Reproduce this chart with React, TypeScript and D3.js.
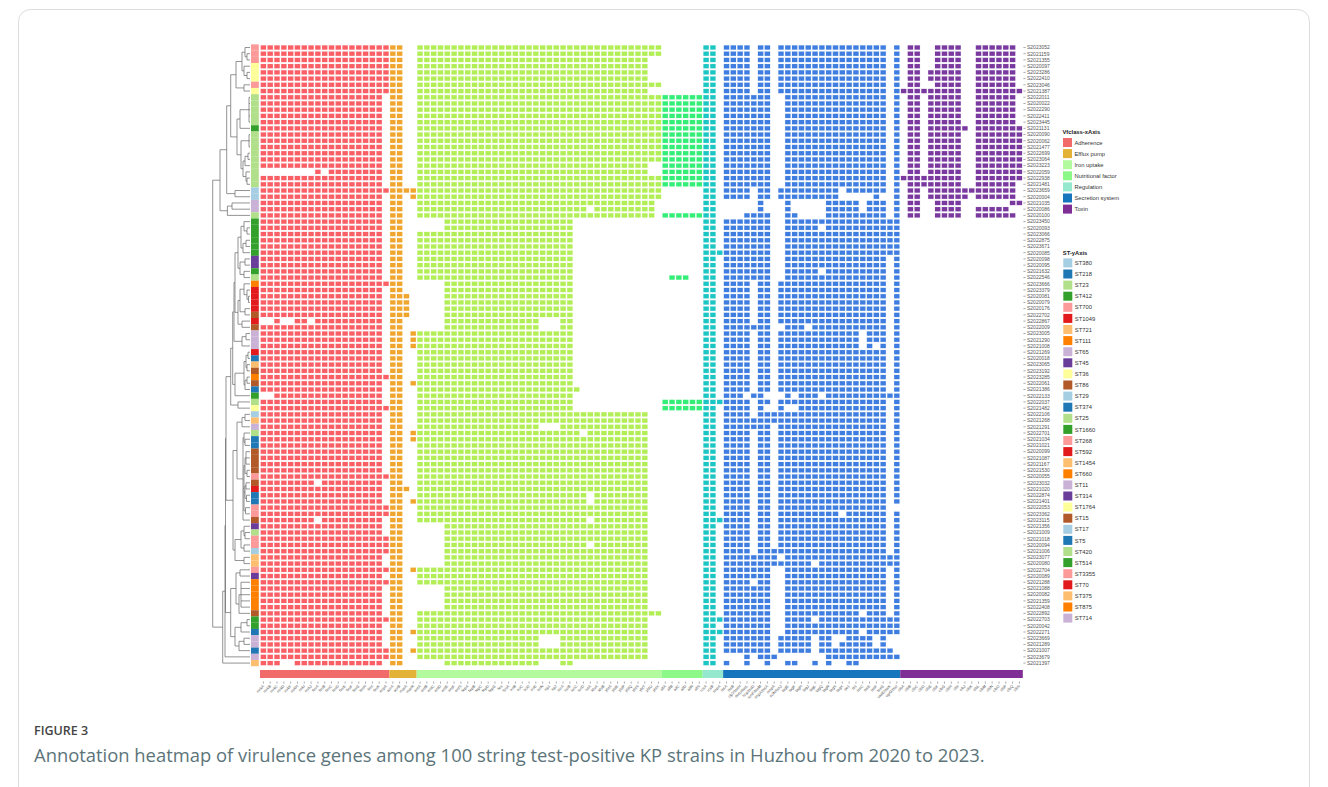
import React from "react";
import * as d3 from "d3";

// ---------- DATA ----------
const strains = [
  "S2023052","S2021159","S2021355","S2020097","S2023286","S2022410","S2023046","S2021387","S2022011","S2020022",
  "S2022290","S2022411","S2023445","S2021131","S2020090","S2020062","S2021477","S2022699","S2023064","S2023223",
  "S2022059","S2022938","S2021481","S2023659","S2020004","S2021035","S2020086","S2020100","S2023450","S2020093",
  "S2023066","S2022875","S2023671","S2020085","S2020098","S2020095","S2021632","S2022546","S2023666","S2023379",
  "S2020081","S2020079","S2020176","S2022702","S2022867","S2022009","S2023005","S2021290","S2021008","S2021269",
  "S2020018","S2023065","S2023192","S2023285","S2022061","S2021386","S2022133","S2022037","S2021482","S2022106",
  "S2021268","S2021291","S2022701","S2021034","S2021021","S2020099","S2021087","S2021167","S2021530","S2020055",
  "S2023032","S2021020","S2022874","S2021401","S2022053","S2023362","S2023115","S2021356","S2021009","S2021018",
  "S2020094","S2021006","S2023077","S2020080","S2022704","S2020089","S2021288","S2021088","S2020082","S2021359",
  "S2022408","S2022892","S2022703","S2020042","S2022271","S2023669","S2021289","S2021007","S2023679","S2021397",
];

const adherenceGenes = ["mrkA","mrkB","mrkC","mrkD","mrkF","mrkH","mrkI","mrkJ","fimA","fimB","fimC","fimD","fimE","fimF","fimG","fimH","fimI","fimK","ecpA"];
const effluxGenes = ["acrA","acrB","marA","marR"];
const ironGenes = ["entA","entB","entC","entD","entE","entF","entS","fepA","fepB","fepC","fepD","fepG","fes","fyuA","iroB","iroC","iroD","iroE","iroN","irp1","irp2","iucA","iucB","iucC","iucD","iutA","kfuA","kfuB","ybtA","ybtE","ybtP","ybtQ","ybtS","ybtT","ybtU","ybtX"];
const nutritionGenes = ["allA","allB","allC","allD","allR","allS"];
const regulationGenes = ["rcsA","rcsB","rmpA"];
const secretionGenes = ["tssA","tssB","clpV/tssH","dotU/tssL","hcp/tssD","icmF/tssM","impA/tssA","ompA","sciN/tssJ","tagE","tagF","tagH","tagJ","tagL","tagQ","tagR","tagS","tagX","tle1","tli1","tssC","tssE","tssF","tssG","vasE/tssK","vgrG/tssI"];
const toxinGenes = ["clbA","clbB","clbC","clbD","clbE","clbF","clbG","clbH","clbI","clbJ","clbK","clbL","clbM","clbN","clbO","clbP","clbQ","clbS"];

// Presence patterns: each letter names a set of gene columns in that class
const adherencePatterns: Record<string,string> = { G:"0-18", F:"0-17", H:"8,10-17", I:"2,5-6,8-17", J:"2-17", K:"0-7,9-17", L:"0-2,5-17" };
const adherenceRows = "GGGGGGGGFF"+"FFFFFFFFFF"+"HFFGFFFFFF"+"FFFFFFFFGF"+"FFFFIFFFFF"+"FFFGFFJFGF"+"FFFFFFFFFG"+"KFFFGGKFFG"+"GGFFGFGFFF"+"FFGFFFFGGL";

const effluxPatterns: Record<string,string> = { A:"0-1", T:"0-2", Q:"0-3", S:"0-1,3" };
const effluxRows = "AAAAAAAAAA"+"AAAAAAAAAA"+"AAAQSAAAAA"+"AAAAAAAAAA"+"TTTTAASSSA"+"AAAASAAAAA"+"AASSAAAAAA"+"ATASAAAAAA"+"AAAASAAAAA"+"AAAASAASAA";

const ironPatterns: Record<string,string> = { a:"0-35", b:"0-33", c:"0-34", d:"0-24,26-34", e:"4-22", f:"0-22", h:"4-17,21-22", i:"0-23", j:"0-17,21-33", k:"0-23,25-33", l:"0-24,26-33", m:"4-33", n:"4-24,26-33", p:"4-17,21-22" };
const ironRows = "aabbbbabaa"+"aaaaaaaaab"+"baaaacdcee"+"ffffffffee"+"eeeehhffff"+"fffffifffb"+"bjkbbbbbbb"+"bbllbblmmm"+"nmmmbbbmmm"+"mabbbjjbbp";

const nutritionPatterns: Record<string,string> = { ".":"", N:"0-5", M:"1-3" };
const nutritionRows = "........NN"+"NNNNNNNNNN"+"NNN....N.."+".......M.."+".........."+".......NN."+".........."+".........."+".........."+"..........";

const regulationPatterns: Record<string,string> = { R:"0-1", W:"0-2" };
const regulationRows = "RRRRRRRRRR"+"RRRRRRRRRR"+"RRRRRRRRRR"+"RRRWRRRRRR"+"RRRRRRRRRR"+"RRRRRRRWRR"+"RRRRRRRRRR"+"RRRRRRWRRR"+"RRRRRRRRRR"+"RRWRWRRRRR";

const secretionPatterns: Record<string,string> = {
  A:"0-3,5-6,8-23,25", B:"0-6,9-23,25", C:"0-6,9-25", D:"0-3,5-6,8-16,18-23,25", E:"0-3,5-6,8-16,22,25",
  F:"5,9,15-19,21-23,25", G:"3-6,9-10,15-23,25", H:"0-6,9-13,15-25", I:"0-6,9-13,15-23,25", J:"0-6,9-11,13-23,25",
  K:"0-3,5-6,8-19,21-23,25", L:"0-3,5-6,8-19,21,23,25", M:"0-2,4-5,9,11-13,15-25", N:"0-3,5,8,11-23,25",
  O:"0-3,5-23,25", P:"0-23,25", Q:"0-6,8-23,25", R:"0-3,5-6,8-23", T:"0-7,9-25", U:"0-12,14-25", V:"0-3,5-6,9-23,25",
  W:"0-6,9-19,21-23,25", X:"0-6,9-12,14-25", Y:"0-6,9-19,21-25", Z:"0-6,8-12,14-15,18-21,23",
  a:"0-6,8-12,14-15,17-21,23", b:"0-6,8-12,14-24", c:"3,5-7,15-25", d:"0,3,6,9-10,13,15,18-19",
};
const secretionRows = "AAAAAAAABB"+"BBBBBBBBBB"+"BBBDEFFGCH"+"CCCCBBIBAA"+"AAAAAJKKLA"+"AAAAAAMANO"+"PQAAAAAAAA"+"AAAARDAAAA"+"AOTUBBVBBB"+"BWXCYZabcd";

const toxinPatterns: Record<string,string> = {
  ".":"", a:"1-2,5-8,11-16", b:"1-2,4-8,11-16", c:"0-8,11-17", d:"1-2,4-9,11-17", e:"1-2,4-8,11-17",
  f:"1-8,11-16", g:"1-2,4-16", h:"1-2,4-9,11-16", i:"1-2,5-8,16-17", j:"1-2,5-8,11-15",
};
const toxinRows = "aaaabbacbb"+"bbbdeeeeee"+"ecfghija.."+".........."+".........."+".........."+".........."+".........."+".........."+"..........";

const classNames = ["Adherence","Efflux pump","Iron uptake","Nutritional factor","Regulation","Secretion system","Toxin"];
const classBarColors = ["#F26B6B","#E3B337","#B3FA9E","#8BF888","#93E8CE","#1675BC","#7E2E94"];
const classCellColors = ["#FB5F66","#F0A52C","#B2EE55","#33EE77","#1CC6C4","#3F7EE0","#7A399F"];

const stNames = ["ST380","ST218","ST23","ST412","ST700","ST1049","ST721","ST111","ST65","ST45","ST36","ST86","ST29","ST374","ST25","ST1660","ST268","ST592","ST1454","ST660","ST11","ST314","ST1764","ST15","ST17","ST5","ST420","ST514","ST3355","ST70","ST375","ST875","ST714"];
const paired: Record<string,string> = { a:"#a6cee3", b:"#1f78b4", c:"#b2df8a", d:"#33a02c", e:"#fb9a99", f:"#e31a1c", g:"#fdbf6f", h:"#ff7f00", i:"#cab2d6", j:"#6a3d9a", k:"#ffff99", l:"#b15928" };
const stRows = "eeekkkekcc"+"cccdcccccc"+"cccaaiicdd"+"ddddjjdchf"+"ffflfliiif"+"bglhlbdcka"+"gicbblllle"+"lfbbeeljce"+"eaggejhhhh"+"hlddbiibig";

// Dendrogram: [merge height, ...children]; 0 is a leaf, leaves follow the row order
type T = 0 | (number | T)[];
const clade0to7: T = [14, [8, [5,0,[3,0,0]], [6,0,[3,0,0]]], [6,0,0]];
const clade8to22: T = [13, [10,[1,0,0,0,0,0],0], [9,[1,0,0,0],[7,[5,[2,0,0],0],[4,0,[3,0,0]]]]];
const cladeUpper: T = [30, [23.3,[19.3,clade0to7,clade8to22],[15,0,0]], [22.6,[18,0,0],0]];
const clade28to45: T = [15, [12,[9,[6,0,[3,0,0]],[7,[4,0,0],0]],[10,[5,0,0],[6,0,0]]], [12,[10,[6,0,[3,0,[1.5,0,0]]],[5,0,0]],[8,0,0]]];
const clade46to48: T = [8,[4,0,0],0];
const clade49to55: T = [6,[4,[2,0,0],[3,0,0]],[5,[3,0,0],0]];
const clade28to58: T = [19.3,[17.3,[16,clade28to45,clade46to48],[15,clade49to55,0]],[12,0,0]];
const clade62to76: T = [7,[6,0,[5,0,0]],[6,[5,[4,0,0,0],[3,0,0]],[5,[4,0,0],[3.5,0,0]],[4.5,0,0]],0];
const clade59to76: T = [13,[8,[5,0,0],0],clade62to76];
const clade77to83: T = [15,[9,[6,0,[5,0,0]],[6,0,0]],[6,0,0]];
const clade84to97: T = [19.3,[14,[10,0,0],[11,[9,0,0,0,0,0],0]],[15,[9,[3,0,0],0],[11,[6,0,0],0]]];
const cladeLower: T = [27.3,[25,[24.5,[24,clade28to58,[17,clade59to76,clade77to83]],clade84to97],0],0];
const treeSpec: T = [37.3, cladeUpper, cladeLower];

const legendClassTitle = "Vfclass-xAxis";
const legendStTitle = "ST-yAxis";
const figureLabel = "FIGURE 3";
const captionText = "Annotation heatmap of virulence genes among 100 string test-positive KP strains in Huzhou from 2020 to 2023.";

// ---------- HELPERS ----------
const parseRanges = (s: string): number[] =>
  s === "" ? [] : s.split(",").flatMap((part) => {
    const [a, b] = part.split("-").map(Number);
    return b === undefined ? [a] : d3.range(a, b + 1);
  });

const W = 1328, H = 787;
const font = "Liberation Sans, Arial, sans-serif";
const groups = [
  { genes: adherenceGenes, rows: adherenceRows, patterns: adherencePatterns },
  { genes: effluxGenes, rows: effluxRows, patterns: effluxPatterns },
  { genes: ironGenes, rows: ironRows, patterns: ironPatterns },
  { genes: nutritionGenes, rows: nutritionRows, patterns: nutritionPatterns },
  { genes: regulationGenes, rows: regulationRows, patterns: regulationPatterns },
  { genes: secretionGenes, rows: secretionRows, patterns: secretionPatterns },
  { genes: toxinGenes, rows: toxinRows, patterns: toxinPatterns },
];
const columnIds = groups.flatMap((g, gi) => g.genes.map((_, i) => `${gi}:${i}`));
const x = d3.scaleBand<string>().domain(columnIds).range([260, 1022.8]);
const y = d3.scaleBand<string>().domain(strains).range([44.4, 666.2]);
const treeX = d3.scaleLinear().domain([0, 37.3]).range([250, 212.7]);

function Dendrogram() {
  const root = d3.hierarchy<T>(treeSpec, (d) => (d === 0 ? null : (d as any[]).slice(1)));
  let leaf = 0;
  const pos = new Map<any, { x: number; y: number }>();
  root.eachAfter((n) => {
    if (!n.children) {
      pos.set(n, { x: treeX(0), y: y(strains[leaf++])! + y.bandwidth() / 2 });
    } else {
      const ys = n.children.map((c) => pos.get(c)!.y);
      pos.set(n, { x: treeX((n.data as any[])[0] as number), y: (ys[0] + ys[ys.length - 1]) / 2 });
    }
  });
  const p = d3.path();
  root.each((n) => {
    if (!n.children) return;
    const a = pos.get(n)!;
    const kids = n.children.map((c) => pos.get(c)!);
    p.moveTo(a.x, kids[0].y);
    p.lineTo(a.x, kids[kids.length - 1].y);
    kids.forEach((k) => { p.moveTo(a.x, k.y); p.lineTo(k.x, k.y); });
  });
  return <path d={p.toString()} fill="none" stroke="#666" strokeWidth={0.7} />;
}

export default function App() {
  const cw = x.bandwidth(), rh = y.bandwidth();
  const barTop = 670, barH = 8;
  return (
    <svg width={W} height={H} viewBox={`0 0 ${W} ${H}`} style={{ position: "fixed", left: 0, top: 0, background: "#fff" }} fontFamily={font}>
      <rect x={18.5} y={9.5} width={1291} height={900} rx={12} fill="none" stroke="#dcdcdc" strokeWidth={1} />
      <Dendrogram />
      {strains.map((s, r) => (
        <rect key={s} x={251} y={y(s)!} width={7.8} height={rh + 0.05} fill={paired[stRows[r]]} />
      ))}
      {groups.map((g, gi) =>
        strains.map((s, r) =>
          parseRanges(g.patterns[g.rows[r]]).map((c) => (
            <rect key={`${gi}-${r}-${c}`} x={x(`${gi}:${c}`)! + 0.75} y={y(s)! + 1} width={cw - 1.5} height={rh - 2}
              fill={classCellColors[gi]} stroke={classCellColors[gi]} strokeOpacity={0.25} strokeWidth={0.5} />
          ))
        )
      )}
      {groups.map((g, gi) => {
        const x0 = x(`${gi}:0`)!;
        const x1 = x(`${gi}:${g.genes.length - 1}`)! + cw;
        return <rect key={gi} x={x0} y={barTop} width={x1 - x0} height={barH} fill={classBarColors[gi]} />;
      })}
      {strains.map((s) => (
        <g key={s}>
          <line x1={1023.4} x2={1025.6} y1={y(s)! + rh / 2} y2={y(s)! + rh / 2} stroke="#555" strokeWidth={0.5} />
          <text x={1027} y={y(s)! + rh / 2 + 1.8} fontSize={5} fill="#555">{s}</text>
        </g>
      ))}
      {groups.map((g, gi) =>
        g.genes.map((name, i) => {
          const cx = x(`${gi}:${i}`)! + cw / 2;
          return (
            <g key={`${gi}:${i}`}>
              <line x1={cx} x2={cx} y1={681.5} y2={683.6} stroke="#555" strokeWidth={0.5} />
              <text transform={`translate(${cx + 1},${686.5}) rotate(-45)`} textAnchor="end" fontSize={3.9} fill="#555">{name}</text>
            </g>
          );
        })
      )}
      <text x={1062.5} y={134} fontSize={5.8} fontWeight="bold" fill="#222">{legendClassTitle}</text>
      {classNames.map((n, i) => (
        <g key={n}>
          <rect x={1063} y={138 + i * 11.1} width={9} height={9} fill={classBarColors[i]} />
          <text x={1074.5} y={144.6 + i * 11.1} fontSize={5.8} fill="#333">{n}</text>
        </g>
      ))}
      <text x={1062.8} y={254.5} fontSize={5.8} fontWeight="bold" fill="#222">{legendStTitle}</text>
      {stNames.map((n, i) => (
        <g key={n}>
          <rect x={1063.3} y={258.4 + i * 11.1} width={9} height={9} fill={paired["abcdefghijkl"[i % 12]]} />
          <text x={1074.8} y={265 + i * 11.1} fontSize={5.8} fill="#333">{n}</text>
        </g>
      ))}
      <text x={34} y={735} fontFamily="Open Sans" fontSize={12.5} fontWeight={600} fill="#444">{figureLabel}</text>
      <text x={34} y={762} fontFamily="Open Sans" fontSize={18.4} fill="#5b7479">{captionText}</text>
    </svg>
  );
}
